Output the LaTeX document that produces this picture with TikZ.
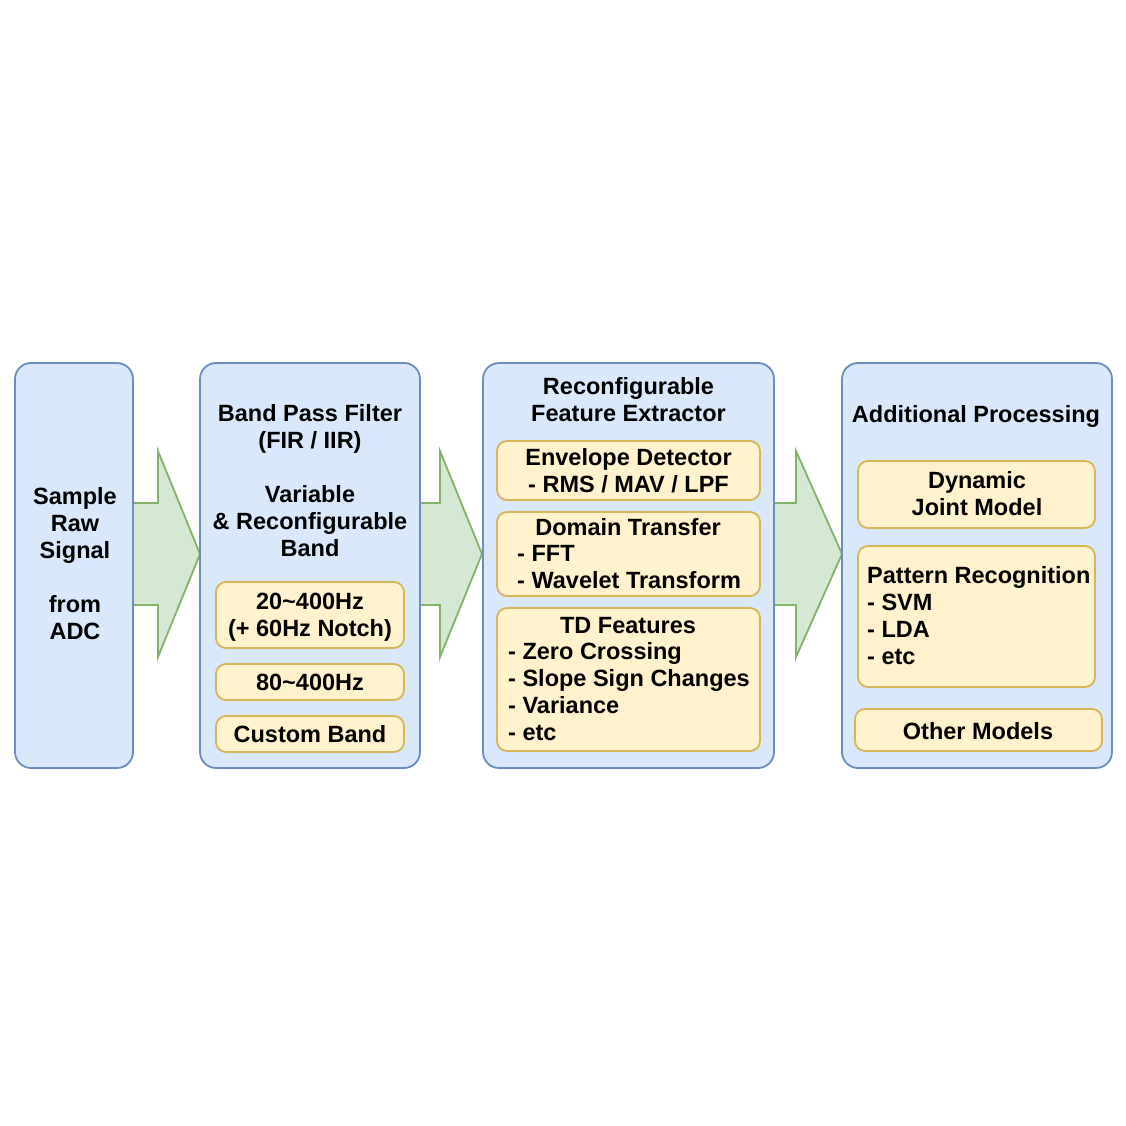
\documentclass[tikz,border=0pt]{standalone}
\usepackage{fontspec}
\setmainfont{Liberation Sans}
\definecolor{bfill}{HTML}{DAE8FC}
\definecolor{bdraw}{HTML}{6C8EBF}
\definecolor{yfill}{HTML}{FFF2CC}
\definecolor{ydraw}{HTML}{D6B656}
\definecolor{gfill}{HTML}{D5E8D4}
\definecolor{gdraw}{HTML}{82B366}
\begin{document}
\begin{tikzpicture}[x=1pt,y=-1pt,
  bluebox/.style={draw=bdraw, fill=bfill, line width=1.8pt, rounded corners=16pt, inner sep=0pt},
  yelbox/.style={draw=ydraw, fill=yfill, line width=1.8pt, rounded corners=10pt, inner sep=0pt},
  blockarrow/.style={draw=gdraw, fill=gfill, line width=1.8pt, line join=miter},
  txt/.style={font=\fontsize{23.5}{27}\selectfont\bfseries, inner sep=0pt, align=center,
    execute at begin node=\strut, execute at end node=\strut},
  txtl/.style={txt, align=left, anchor=west}]
\useasboundingbox (0,0) rectangle (1126,1126);
\fill[white] (0,0) rectangle (1126,1126);

% block arrows
\draw[blockarrow] (133,503) -- (158,503) -- (158,451) -- (200,554) -- (158,657) -- (158,605) -- (133,605) -- cycle;
\draw[blockarrow] (420,503) -- (440,503) -- (440,451) -- (482,554) -- (440,657) -- (440,605) -- (420,605) -- cycle;
\draw[blockarrow] (774,503) -- (796,503) -- (796,451) -- (842,554) -- (796,657) -- (796,605) -- (774,605) -- cycle;

% outer boxes
\node[bluebox, minimum width=118pt, minimum height=405pt] (b1) at (74,565.5) {};
\node[bluebox, minimum width=220pt, minimum height=405pt] (b2) at (310,565.5) {};
\node[bluebox, minimum width=291pt, minimum height=405pt] (b3) at (628.5,565.5) {};
\node[bluebox, minimum width=270pt, minimum height=405pt] (b4) at (977,565.5) {};

% inner boxes
\node[yelbox, minimum width=188pt, minimum height=66pt] (y21) at (310,615) {};
\node[yelbox, minimum width=188pt, minimum height=36pt] (y22) at (310,682) {};
\node[yelbox, minimum width=188pt, minimum height=36pt] (y23) at (310,734) {};
\node[yelbox, minimum width=263pt, minimum height=59pt] (y31) at (628.5,470.5) {};
\node[yelbox, minimum width=263pt, minimum height=84pt] (y32) at (628.5,554) {};
\node[yelbox, minimum width=263pt, minimum height=143pt] (y33) at (628.5,679.5) {};
\node[yelbox, minimum width=237pt, minimum height=67pt] (y41) at (976.5,494.5) {};
\node[yelbox, minimum width=237pt, minimum height=141pt] (y42) at (976.5,616.5) {};
\node[yelbox, minimum width=247pt, minimum height=42pt] (y43) at (978.5,730) {};

% texts
\node[txt] (t1) at (75,567.5) {Sample\\Raw\\Signal\\[27pt]from\\ADC};
\node[txt] (t2) at (310,484.5) {Band Pass Filter\\(FIR / IIR)\\[27pt]Variable\\\& Reconfigurable\\Band};
\node[txt] (t21) at (310,619) {20\textasciitilde 400Hz\\(+ 60Hz Notch)};
\node[txt] (t22) at (310,685) {80\textasciitilde 400Hz};
\node[txt] (t23) at (310,737) {Custom Band};
\node[txt] (t3) at (628.5,403.5) {Reconfigurable\\Feature Extractor};
\node[txt] (t31) at (628.5,474.5) {Envelope Detector\\- RMS / MAV / LPF};
\node[txt] (t32) at (628,530) {Domain Transfer};
\node[txtl] (t32l) at (517,570.5) {- FFT\\- Wavelet Transform};
\node[txt] (t33) at (628,628) {TD Features};
\node[txtl] (t33l) at (508,695.5) {- Zero Crossing\\- Slope Sign Changes\\- Variance\\- etc};
\node[txt] (t4) at (976,417) {Additional Processing};
\node[txt] (t41) at (977,497.5) {Dynamic\\Joint Model};
\node[txtl] (t42) at (867,619.5) {Pattern Recognition\\- SVM\\- LDA\\- etc};
\node[txt] (t43) at (978,734) {Other Models};
\end{tikzpicture}
\end{document}
